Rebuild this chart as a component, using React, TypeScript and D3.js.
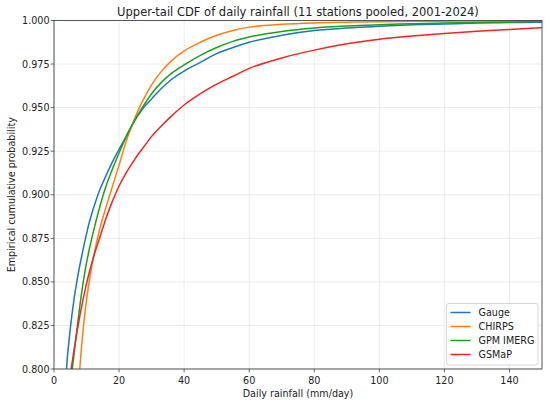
import React, { useEffect } from 'react';
import * as d3 from 'd3';

// Rainfall thresholds (mm/day) shared by every series
const rainfall = [3, 4, 5, 6, 7, 8, 9, 10, 11, 12, 14, 16, 18, 20, 22, 24, 26, 28, 30, 33, 36, 40, 45, 50, 55, 60, 70, 80, 90, 100, 110, 120, 130, 140, 150];

const gauge = [0.775, 0.804, 0.823, 0.838, 0.850, 0.860, 0.869, 0.8775, 0.8852, 0.8915, 0.9025, 0.911, 0.919, 0.926, 0.933, 0.940, 0.946, 0.951, 0.955, 0.961, 0.966, 0.971, 0.976, 0.981, 0.9845, 0.9875, 0.9915, 0.9942, 0.9957, 0.9967, 0.9975, 0.998, 0.9985, 0.9988, 0.999];
const chirps = [0.61, 0.66, 0.70, 0.74, 0.775, 0.802, 0.8235, 0.8395, 0.8525, 0.863, 0.880, 0.893, 0.905, 0.917, 0.9295, 0.940, 0.949, 0.9565, 0.963, 0.9708, 0.9767, 0.9825, 0.9875, 0.9915, 0.9943, 0.9962, 0.9978, 0.9986, 0.999, 0.9993, 0.9995, 0.9996, 0.9997, 0.9998, 0.9998];
const imerg = [0.75, 0.772, 0.790, 0.806, 0.822, 0.837, 0.850, 0.861, 0.870, 0.878, 0.8925, 0.905, 0.915, 0.924, 0.9325, 0.940, 0.9465, 0.9525, 0.958, 0.9645, 0.9695, 0.9745, 0.980, 0.9845, 0.988, 0.9905, 0.9937, 0.9957, 0.9968, 0.9976, 0.9981, 0.9986, 0.9989, 0.9992, 0.9995];
const gsmap = [0.76, 0.781, 0.796, 0.809, 0.8205, 0.831, 0.8405, 0.849, 0.8565, 0.8633, 0.875, 0.8865, 0.8965, 0.905, 0.912, 0.918, 0.9235, 0.9285, 0.9335, 0.9395, 0.945, 0.9515, 0.958, 0.9635, 0.968, 0.9725, 0.9785, 0.983, 0.9866, 0.9893, 0.9911, 0.9926, 0.9938, 0.9948, 0.9959];

const seriesNames = ['Gauge', 'CHIRPS', 'GPM IMERG', 'GSMaP'];
const seriesColors = ['#1f77b4', '#ff7f0e', '#1ca01c', '#f02424'];
const seriesValues = [gauge, chirps, imerg, gsmap];

const xTicks = [0, 20, 40, 60, 80, 100, 120, 140];
const yTicks = [0.8, 0.825, 0.85, 0.875, 0.9, 0.925, 0.95, 0.975, 1.0];

const W = 550;
const H = 406;
const margin = { top: 20.5, right: 8, bottom: 37, left: 54 };
const font = '"DejaVu Sans", sans-serif';

const App: React.FC = () => {
    useEffect(() => {
        document.body.style.margin = '0';
    }, []);

    const x = d3.scaleLinear().domain([0, 150]).range([margin.left, W - margin.right]);
    const y = d3.scaleLinear().domain([0.8, 1.0]).range([H - margin.bottom, margin.top]);

    const line = d3.line<[number, number]>()
        .x(d => x(d[0]))
        .y(d => y(d[1]))
        .curve(d3.curveMonotoneX);

    const [x0, x1] = x.range();
    const [y0, y1] = y.range();

    return (
        <svg width={W} height={H} style={{ display: 'block' }} fontFamily={font}>
            <defs>
                <clipPath id="plot-clip">
                    <rect x={x0} y={y1} width={x1 - x0} height={y0 - y1} />
                </clipPath>
            </defs>
            <rect width={W} height={H} fill="#fff" />

            {/* grid */}
            {xTicks.map(t => (
                <line key={'gx' + t} x1={x(t)} x2={x(t)} y1={y1} y2={y0} stroke="#b0b0b0" strokeOpacity={0.3} strokeWidth={0.8} />
            ))}
            {yTicks.map(t => (
                <line key={'gy' + t} x1={x0} x2={x1} y1={y(t)} y2={y(t)} stroke="#b0b0b0" strokeOpacity={0.3} strokeWidth={0.8} />
            ))}

            {/* curves */}
            <g clipPath="url(#plot-clip)">
                {seriesValues.map((vals, i) => (
                    <path key={seriesNames[i]}
                        d={line(rainfall.map((r, j) => [r, vals[j]] as [number, number])) || ''}
                        fill="none" stroke={seriesColors[i]} strokeWidth={1.5} strokeLinejoin="round" />
                ))}
            </g>

            {/* frame */}
            <rect x={x0} y={y1} width={x1 - x0} height={y0 - y1} fill="none" stroke="#444" strokeWidth={0.9} />

            {/* x axis */}
            {xTicks.map(t => (
                <g key={'tx' + t}>
                    <line x1={x(t)} x2={x(t)} y1={y0} y2={y0 + 3.4} stroke="#444" strokeWidth={0.8} />
                    <text x={x(t)} y={y0 + 15} textAnchor="middle" fontSize={9.6} fill="#222">{t}</text>
                </g>
            ))}
            <text x={(x0 + x1) / 2} y={396.5} textAnchor="middle" fontSize={9.6} fill="#222">Daily rainfall (mm/day)</text>

            {/* y axis */}
            {yTicks.map(t => (
                <g key={'ty' + t}>
                    <line x1={x0 - 3.4} x2={x0} y1={y(t)} y2={y(t)} stroke="#444" strokeWidth={0.8} />
                    <text x={x0 - 4.5} y={y(t) + 3.5} textAnchor="end" fontSize={9.6} fill="#222">{d3.format('.3f')(t)}</text>
                </g>
            ))}
            <text transform={`translate(15,${(y0 + y1) / 2}) rotate(-90)`} textAnchor="middle" fontSize={9.6} fill="#222">
                Empirical cumulative probability
            </text>

            {/* title */}
            <text x={(x0 + x1) / 2} y={15.5} textAnchor="middle" fontSize={11.5} fill="#222">
                Upper-tail CDF of daily rainfall (11 stations pooled, 2001-2024)
            </text>

            {/* legend */}
            <g transform="translate(446.5,303.5)">
                <rect width={91.5} height={61.5} rx={2.5} fill="#fff" fillOpacity={0.8} stroke="#cccccc" strokeWidth={0.8} />
                {seriesNames.map((name, i) => (
                    <g key={'lg' + name} transform={`translate(0,${9 + i * 14})`}>
                        <line x1={4} x2={24} y1={0} y2={0} stroke={seriesColors[i]} strokeWidth={1.5} />
                        <text x={32} y={3.5} fontSize={9.6} fill="#222">{name}</text>
                    </g>
                ))}
            </g>
        </svg>
    );
};

export default App;
